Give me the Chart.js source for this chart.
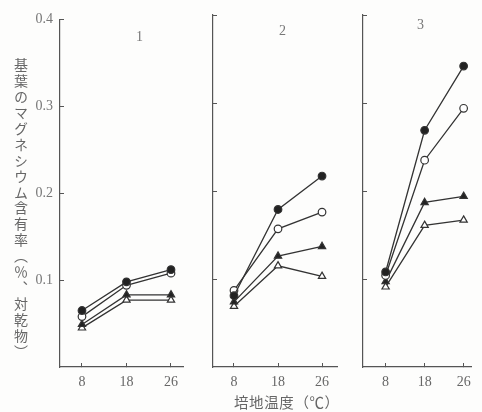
<!DOCTYPE html>
<html>
<head>
<meta charset="utf-8">
<script src="https://cdn.jsdelivr.net/npm/chart.js@4"></script>
<style>
  body { margin: 0; background: #fdfdfc; }
  #wrap { position: relative; width: 482px; height: 412px; overflow: hidden; }
  #wrap canvas { position: absolute; left: 0; top: 0; }
  .txt { position: absolute; color: #666; white-space: nowrap; }
  .num { font-family: 'Liberation Serif', 'DejaVu Serif', serif; font-size: 14px; color: #777; }
  #ytitle { left: 11px; top: 58px; writing-mode: vertical-rl; text-orientation: upright;
            font-family: 'Noto Sans CJK JP', sans-serif; font-size: 14px; letter-spacing: 1.9px; }
  #xtitle { left: 234px; top: 391px; font-family: 'Noto Sans CJK JP', sans-serif; font-size: 14.5px; letter-spacing: 0.6px; }
</style>
</head>
<body>
<div id="wrap">
  <canvas id="c1" width="482" height="412"></canvas>
  <canvas id="c2" width="482" height="412"></canvas>
  <canvas id="c3" width="482" height="412"></canvas>
  <div class="txt" id="ytitle">基葉のマグネシウム含有率（％、対乾物）</div>
  <div class="txt" id="xtitle">培地温度（℃）</div>
  <div class="txt num" style="left:136px; top:29px;">1</div>
  <div class="txt num" style="left:279px; top:23px;">2</div>
  <div class="txt num" style="left:417px; top:17px;">3</div>
</div>
<script>
// temperature categories (°C) and y ticks
const categories = ["8", "18", "26"];
const yTicks = [0.1, 0.2, 0.3, 0.4];

// panel 1
const filledCircle1 = [0.065, 0.098, 0.112];
const openCircle1   = [0.058, 0.094, 0.108];
const filledTri1    = [0.049, 0.083, 0.083];
const openTri1      = [0.045, 0.077, 0.077];

// panel 2
const filledCircle2 = [0.081, 0.179, 0.217];
const openCircle2   = [0.087, 0.157, 0.176];
const filledTri2    = [0.074, 0.126, 0.137];
const openTri2      = [0.069, 0.115, 0.103];

// panel 3
const filledCircle3 = [0.108, 0.269, 0.342];
const openCircle3   = [0.104, 0.235, 0.294];
const filledTri3    = [0.097, 0.187, 0.194];
const openTri3      = [0.091, 0.161, 0.167];

const ink = "#333";
const axisInk = "#555";
const numFont = { family: "'Liberation Serif', 'DejaVu Serif', serif", size: 14 };

function series(values, style, filled) {
  return {
    data: values.map((v, i) => ({ x: i, y: v })),
    borderColor: ink,
    borderWidth: 1.3,
    pointStyle: style,
    pointRadius: style === "triangle" ? 4.2 : 3.8,
    pointBorderWidth: 1.2,
    pointBorderColor: ink,
    pointBackgroundColor: filled ? "#222" : "#fff",
    fill: false,
    tension: 0,
  };
}

function panel(id, sets, pad, xMin, xMax, showY) {
  new Chart(document.getElementById(id), {
    type: "line",
    data: { datasets: sets },
    options: {
      responsive: false,
      animation: false,
      layout: { padding: pad },
      plugins: { legend: { display: false }, tooltip: { enabled: false } },
      scales: {
        x: {
          type: "linear",
          min: xMin,
          max: xMax,
          afterBuildTicks: (s) => { s.ticks = categories.map((c, i) => ({ value: i })); },
          afterFit: (s) => { s.height = 45; },
          ticks: { callback: (v) => categories[v], font: numFont, color: "#666", padding: 11, maxRotation: 0 },
          grid: { drawOnChartArea: false, tickLength: -4, color: axisInk },
          border: { color: axisInk, width: 1.2 },
        },
        y: {
          min: 0,
          max: 0.4,
          afterBuildTicks: (s) => { s.ticks = yTicks.map((v) => ({ value: v })); },
          afterFit: (s) => { s.width = 60; },
          ticks: { display: showY, callback: (v) => v.toFixed(1), font: numFont, color: "#777", padding: 11 },
          grid: { drawOnChartArea: false, tickLength: -4, color: axisInk },
          border: { color: axisInk, width: 1.2 },
        },
      },
    },
  });
}

panel("c1", [
  series(filledCircle1, "circle", true),
  series(openCircle1, "circle", false),
  series(filledTri1, "triangle", true),
  series(openTri1, "triangle", false),
], { left: 0, right: 299, top: 15, bottom: 0 }, -0.494, 2.27, true);

panel("c2", [
  series(filledCircle2, "circle", true),
  series(openCircle2, "circle", false),
  series(filledTri2, "triangle", true),
  series(openTri2, "triangle", false),
], { left: 153, right: 145, top: 15, bottom: 0 }, -0.477, 2.34, false);

panel("c3", [
  series(filledCircle3, "circle", true),
  series(openCircle3, "circle", false),
  series(filledTri3, "triangle", true),
  series(openTri3, "triangle", false),
], { left: 303, right: 1, top: 15, bottom: 0 }, -0.58, 2.19, false);
</script>
</body>
</html>
